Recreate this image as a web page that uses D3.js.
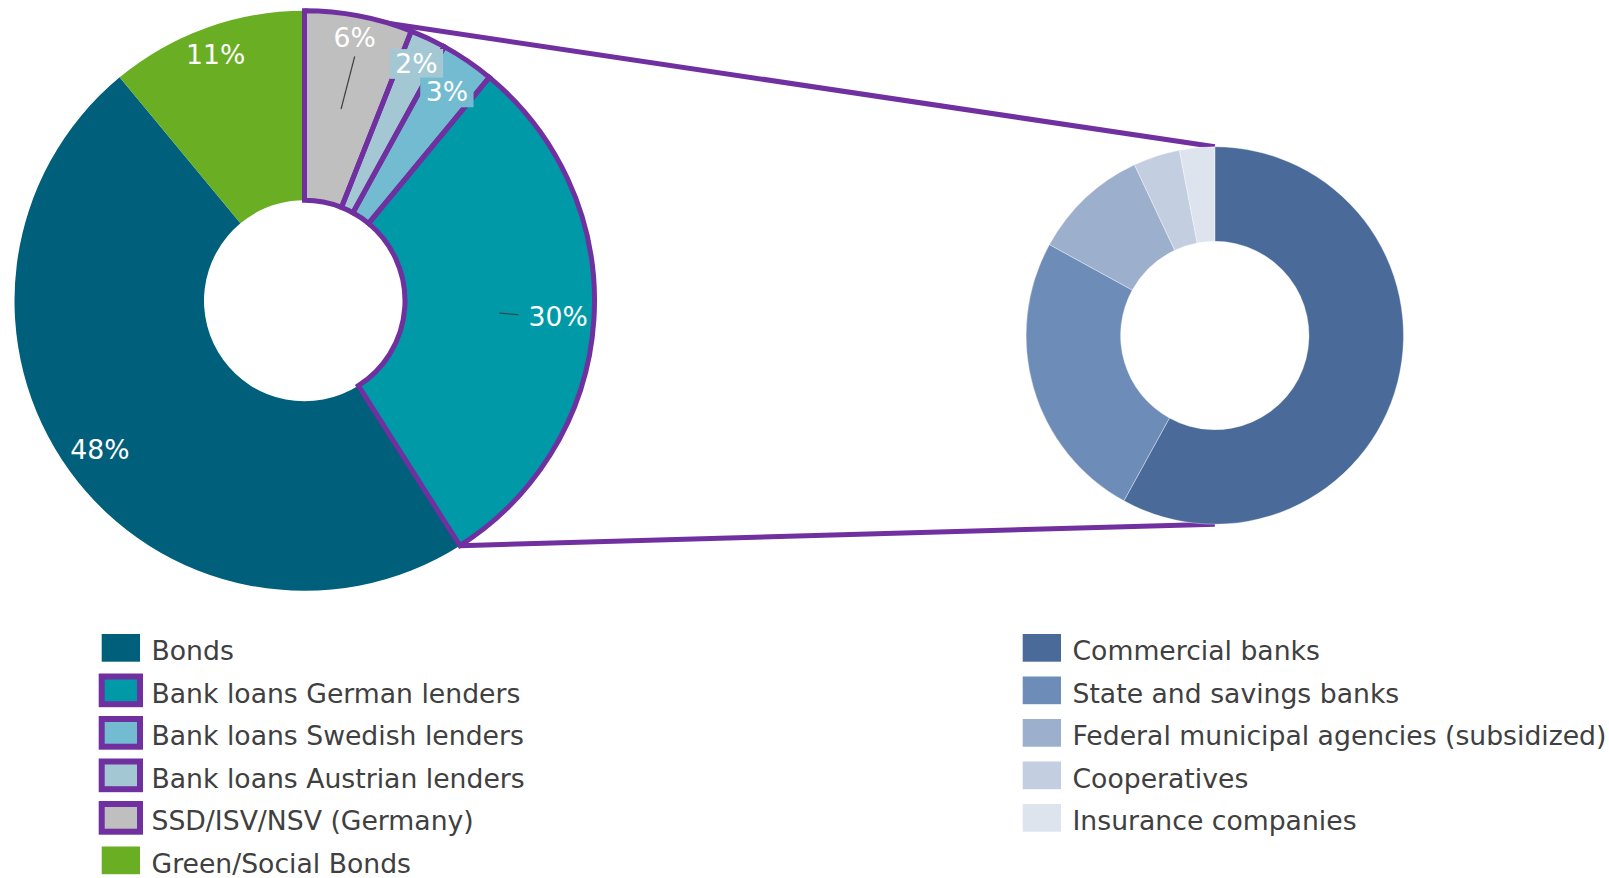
<!DOCTYPE html>
<html>
<head>
<meta charset="utf-8">
<script src="https://cdn.jsdelivr.net/npm/d3@7"></script>
<style>
  body { margin: 0; background: #ffffff; }
  svg { display: block; }
  text { font-family: "DejaVu Sans", Verdana, sans-serif; }
</style>
</head>
<body>
<svg id="chart" width="1609" height="878"></svg>
<script>
// ---- Financing mix (share of total, %) ----
const fundingCategories = [
  "Bonds",
  "Bank loans German lenders",
  "Bank loans Swedish lenders",
  "Bank loans Austrian lenders",
  "SSD/ISV/NSV (Germany)",
  "Green/Social Bonds"
];
const fundingValues = [48, 30, 3, 2, 6, 11];
const fundingColors = ["#005f7a", "#0099a8", "#72bbd0", "#a4c8d3", "#bfbfbf", "#6aae23"];
// slices that belong to the loan group broken down on the right
const fundingInLoanGroup = [false, true, true, true, true, false];
// clockwise sequence around the ring, starting at 12 o'clock
const fundingRingOrder = [
  "SSD/ISV/NSV (Germany)",
  "Bank loans Austrian lenders",
  "Bank loans Swedish lenders",
  "Bank loans German lenders",
  "Bonds",
  "Green/Social Bonds"
];
// labels that get a leader line back to their slice
const fundingLeaderLabels = ["SSD/ISV/NSV (Germany)", "Bank loans German lenders"];

// ---- Lender breakdown (share of loans, %) ----
const lenderCategories = [
  "Commercial banks",
  "State and savings banks",
  "Federal municipal agencies (subsidized)",
  "Cooperatives",
  "Insurance companies"
];
const lenderValues = [58, 25, 10, 4, 3];
const lenderColors = ["#4a6a99", "#6d8cb8", "#9cafcc", "#c3cee0", "#dde4ee"];

const groupColor = "#7030a0";
const textColor = "#404040";
const fontSize = 26.67;
const capH = fontSize * 0.729;

const svg = d3.select("#chart");

// layout
const left = { cx: 304.5, cy: 300.8, R: 290, r: 100.5 };
const right = { cx: 1214.8, cy: 335.5, R: 188.7, r: 94.2 };

const fundingData = fundingCategories.map((name, i) => ({
  name, value: fundingValues[i], color: fundingColors[i], grouped: fundingInLoanGroup[i]
}));
const lenderData = lenderCategories.map((name, i) => ({
  name, value: lenderValues[i], color: lenderColors[i]
}));

const fundingPie = d3.pie()
  .value(d => d.value)
  .sort((a, b) => fundingRingOrder.indexOf(a.name) - fundingRingOrder.indexOf(b.name));
const lenderPie = d3.pie().value(d => d.value).sort(null);

const fundingArcs = fundingPie(fundingData);
const lenderArcs = lenderPie(lenderData);

const fundingArc = d3.arc().innerRadius(left.r).outerRadius(left.R);
const lenderArc = d3.arc().innerRadius(right.r).outerRadius(right.R);

const polar = (c, rad, a) => [c.cx + rad * Math.sin(a), c.cy - rad * Math.cos(a)];

// ---- connector lines from the loan group to the breakdown ring ----
const groupArcs = fundingArcs.filter(d => d.data.grouped);
const gStart = d3.min(groupArcs, d => d.startAngle);
const gEnd = d3.max(groupArcs, d => d.endAngle);
const connectors = [
  [polar(left, left.R, gStart), polar(right, right.R, 0)],
  [polar(left, left.R, gEnd), polar(right, right.R, Math.PI)]
];
svg.append("g").selectAll("line").data(connectors).join("line")
  .attr("x1", d => d[0][0]).attr("y1", d => d[0][1])
  .attr("x2", d => d[1][0]).attr("y2", d => d[1][1])
  .attr("stroke", groupColor).attr("stroke-width", 5);

// ---- left ring ----
const gLeft = svg.append("g").attr("transform", `translate(${left.cx},${left.cy})`);
gLeft.selectAll("path.fill").data(fundingArcs).join("path")
  .attr("class", "fill")
  .attr("d", fundingArc)
  .attr("fill", d => d.data.color);
gLeft.selectAll("path.outline").data(groupArcs).join("path")
  .attr("class", "outline")
  .attr("d", fundingArc)
  .attr("fill", "none")
  .attr("stroke", groupColor)
  .attr("stroke-width", 5)
  .attr("stroke-linejoin", "miter");

// ---- right ring ----
const gRight = svg.append("g").attr("transform", `translate(${right.cx},${right.cy})`);
gRight.selectAll("path").data(lenderArcs).join("path")
  .attr("d", lenderArc)
  .attr("fill", d => d.data.color)
  .attr("stroke", "#ffffff")
  .attr("stroke-opacity", 0.45)
  .attr("stroke-width", 0.8);

// ---- value labels on the left ring (inside end) ----
const gLabels = svg.append("g");
const ordered = fundingArcs.slice().sort((a, b) => a.startAngle - b.startAngle);

// first pass: measure and place
const labels = ordered.map(d => {
  const boxed = d.data.value < 5 && d.data.name !== "SSD/ISV/NSV (Germany)";
  const a = (d.startAngle + d.endAngle) / 2;
  const g = gLabels.append("g");
  const t = g.append("text")
    .attr("text-anchor", "middle")
    .attr("font-size", fontSize)
    .attr("fill", "#ffffff")
    .text(d.data.value + "%");
  const w = t.node().getComputedTextLength();
  const hw = w / 2 + (boxed ? 5.5 : 0);
  const hh = boxed ? 15 : 13;
  const rad = left.R - 5.5 - (hw * Math.abs(Math.sin(a)) + hh * Math.abs(Math.cos(a)));
  return { d, boxed, a, g, t, w, rad, boxH: capH + 10.3 };
});

// second pass: spread neighbouring boxed labels along their radii so boxes just touch
for (let i = 0; i < labels.length - 1; i++) {
  const p = labels[i], q = labels[i + 1];
  if (!p.boxed || !q.boxed) continue;
  const py = polar(left, p.rad, p.a)[1], qy = polar(left, q.rad, q.a)[1];
  const overlap = (py + p.boxH / 2) - (qy - q.boxH / 2) - 1.3;
  if (overlap > 0) {
    p.rad += (overlap / 2) / Math.cos(p.a);
    q.rad -= (overlap / 2) / Math.cos(q.a);
  }
}

labels.forEach(L => {
  const { d, boxed, a, g, t, w } = L;
  const [x, y] = polar(left, L.rad, a);
  t.attr("x", x).attr("y", y + capH / 2);
  if (boxed) {
    g.insert("rect", "text")
      .attr("x", x - w / 2 - 5.5)
      .attr("y", y - capH / 2 - 4)
      .attr("width", w + 11)
      .attr("height", L.boxH)
      .attr("fill", d.data.color);
  }
  if (fundingLeaderLabels.includes(d.data.name)) {
    const c = fundingArc.centroid(d);
    const cx = left.cx + c[0], cy = left.cy + c[1];
    let ex, ey;
    if (Math.abs(x - cx) > Math.abs(y - cy)) {
      ex = x - Math.sign(x - cx) * (w / 2 + 10);
      ey = y - 2;
    } else {
      ex = x;
      ey = y - Math.sign(y - cy) * (capH / 2 + 9);
    }
    gLabels.append("path")
      .attr("d", `M${cx},${cy}L${ex},${ey}`)
      .attr("fill", "none")
      .attr("stroke", textColor)
      .attr("stroke-width", 1.2);
  }
});

// ---- legends ----
const rowGap = 42.5;
const swW = 38.3, swH = 27.7;
function legend(items, x0, textX) {
  const g = svg.append("g");
  const rows = g.selectAll("g").data(items).join("g")
    .attr("transform", (d, i) => `translate(0,${634 + i * rowGap})`);
  rows.append("rect")
    .attr("x", x0).attr("y", 0)
    .attr("width", swW).attr("height", swH)
    .attr("fill", d => d.color)
    .attr("stroke", d => d.grouped ? groupColor : "none")
    .attr("stroke-width", 6);
  rows.append("text")
    .attr("x", textX).attr("y", 26)
    .attr("font-size", fontSize)
    .attr("fill", textColor)
    .text(d => d.name);
}
legend(fundingData, 101.7, 151.5);
legend(lenderData, 1022.7, 1072.5);
</script>
</body>
</html>
